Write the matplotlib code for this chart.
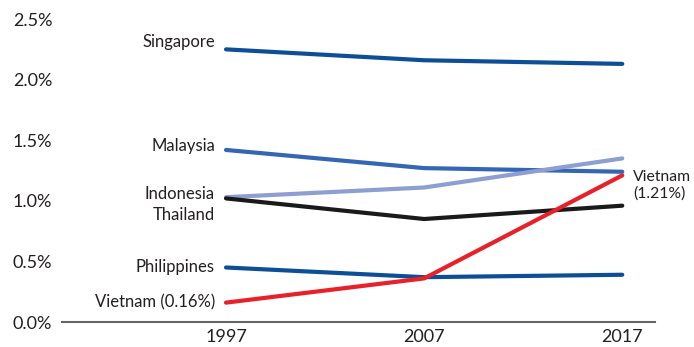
import matplotlib.pyplot as plt

plt.rcParams['font.family'] = ['Lato', 'DejaVu Sans']

years = [1997, 2007, 2017]
singapore = [2.25, 2.16, 2.13]
malaysia = [1.42, 1.27, 1.24]
indonesia = [1.03, 1.11, 1.35]
thailand = [1.02, 0.85, 0.96]
philippines = [0.45, 0.37, 0.39]
vietnam = [0.16, 0.36, 1.21]
yticks = [0.0, 0.5, 1.0, 1.5, 2.0, 2.5]

fig = plt.figure(figsize=(6.94, 3.47), dpi=100)
ax = fig.add_axes([0.0893, 0.072, 0.855, 0.908])

lw = 3
ax.plot(years, singapore, color='#0d4f97', lw=lw, solid_capstyle='round')
ax.plot(years, malaysia, color='#3565b5', lw=lw, solid_capstyle='round')
ax.plot(years, indonesia, color='#8d9fd1', lw=lw, solid_capstyle='round')
ax.plot(years, thailand, color='#1a1a1a', lw=lw, solid_capstyle='round')
ax.plot(years, philippines, color='#0d4f97', lw=lw, solid_capstyle='round')
ax.plot(years, vietnam, color='#e8202a', lw=lw, solid_capstyle='round')

# labels on the left
lab = dict(ha='right', va='center', fontsize=12, color='#231f20',
           textcoords='offset points')
ax.annotate('Singapore', (years[0], singapore[0]), xytext=(-8, 5), **lab)
ax.annotate('Malaysia', (years[0], malaysia[0]), xytext=(-8, 3), **lab)
ax.annotate('Indonesia', (years[0], indonesia[0]), xytext=(-8, 2), **lab)
ax.annotate('Thailand', (years[0], thailand[0]), xytext=(-8, -12), **lab)
ax.annotate('Philippines', (years[0], philippines[0]), xytext=(-8, 0), **lab)
ax.annotate('Vietnam (0.16%)', (years[0], vietnam[0]), xytext=(-8, 0), **lab)
ax.annotate('Vietnam\n(1.21%)', (years[2], vietnam[2]), xytext=(8, -7),
            ha='left', va='center', fontsize=11.3, color='#231f20',
            textcoords='offset points', linespacing=1.2)

ax.set_xlim(1988.72, 2018.67)
ax.set_ylim(0, 2.6)
ax.set_xticks(years)
ax.set_xticklabels([str(y) for y in years], fontsize=13, color='#231f20')
ax.set_yticks(yticks)
ax.set_yticklabels(['%.1f%%' % v for v in yticks], fontsize=13, color='#231f20')
ax.tick_params(length=0, axis='y', pad=7)
ax.tick_params(length=0, axis='x', pad=5)

for s in ['top', 'right', 'left']:
    ax.spines[s].set_visible(False)
ax.spines['bottom'].set_color('#666666')
ax.spines['bottom'].set_linewidth(1.5)

fig.savefig('out.png', dpi=100)
